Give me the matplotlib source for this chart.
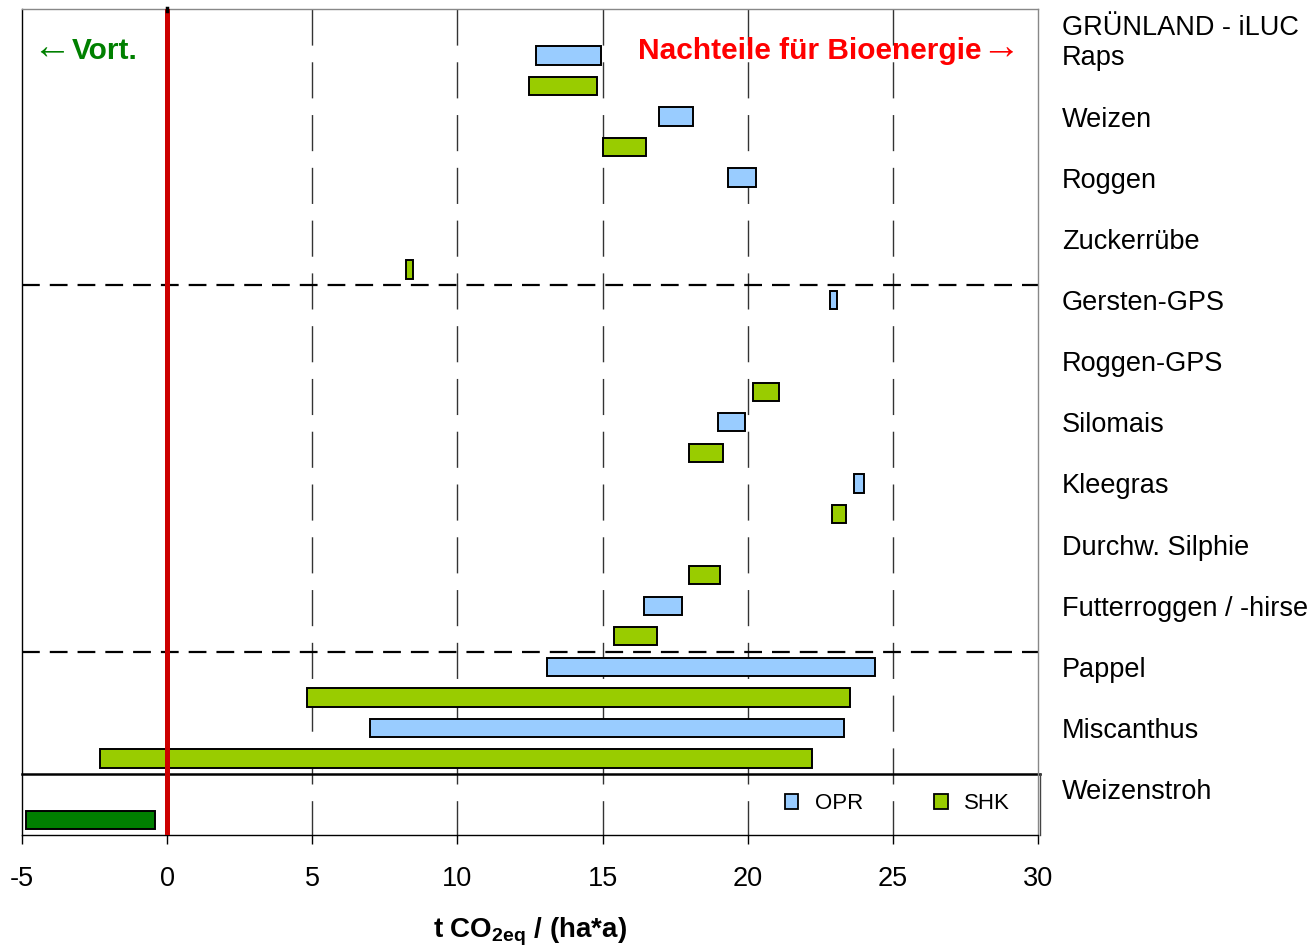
import numpy as np
import matplotlib.pyplot as plt
import matplotlib.transforms as mtransforms
from matplotlib.patches import Patch

plt.rcParams['font.family'] = ['Liberation Sans', 'DejaVu Sans']
plt.rcParams['axes.unicode_minus'] = False
plt.rcParams['mathtext.fontset'] = 'custom'
plt.rcParams['mathtext.rm'] = 'Liberation Sans:bold'
plt.rcParams['mathtext.it'] = 'Liberation Sans:bold'
plt.rcParams['mathtext.bf'] = 'Liberation Sans:bold'

# crops top to bottom, each one gets an OPR row and an SHK row
title_row = "GRÜNLAND - iLUC"
crops = ["Raps", "Weizen", "Roggen", "Zuckerrübe", "Gersten-GPS", "Roggen-GPS",
         "Silomais", "Kleegras", "Durchw. Silphie", "Futterroggen / -hirse",
         "Pappel", "Miscanthus", "Weizenstroh"]

# ranges in t CO2eq/(ha*a), None = no value
opr_low  = [12.69, 16.93, 19.32, None, 22.82, None, 18.96, 23.65, None, 16.41, 13.07, 6.97, None]
opr_high = [14.94, 18.12, 20.27, None, 23.07, None, 19.91, 23.99, None, 17.73, 24.37, 23.31, None]
shk_low  = [12.46, 15.00, None, 8.21, None, 20.19, 17.96, 22.90, 17.96, 15.40, 4.82, -2.30, -4.85]
shk_high = [14.79, 16.50, None, 8.46, None, 21.07, 19.14, 23.40, 19.05, 16.89, 23.53, 22.21, -0.43]

xticks = [-5, 0, 5, 10, 15, 20, 25, 30]

c_opr = '#99ccff'
c_shk = '#99cc00'
# Weizenstroh is drawn in dark green
shk_colors = [c_shk] * 12 + ['#007f00']

fig = plt.figure(figsize=(13.13, 9.49), dpi=100)
ax = fig.add_axes([0.0168, 0.1201, 0.7738, 0.8699])

bar_h = 0.6
for i in range(len(crops)):
    if opr_low[i] is not None:
        ax.barh(2 * i, opr_high[i] - opr_low[i], left=opr_low[i], height=bar_h,
                color=c_opr, edgecolor='black', linewidth=1.4, zorder=3)
    if shk_low[i] is not None:
        ax.barh(2 * i + 1, shk_high[i] - shk_low[i], left=shk_low[i], height=bar_h,
                color=shk_colors[i], edgecolor='black', linewidth=1.4, zorder=3)

ax.set_xlim(-5, 30)
ax.set_ylim(25.5, -1.5)

# vertical dashed grid
for x in xticks[2:-1]:
    ax.axvline(x, ymin=1, ymax=0, color='#333333', lw=1, dashes=(26, 12), zorder=1)

# group separators
for y in [7.5, 19.5]:
    ax.axhline(y, color='black', lw=1.6, dashes=(8, 4.5), zorder=2)
ax.axhline(23.5, xmin=0, xmax=1.002, color='black', lw=1.8, zorder=2, clip_on=False)
ax.plot([1.002, 1.002], [0, 2.0 / 27], transform=ax.transAxes, color='#444444',
        lw=1.0, clip_on=False)

# zero line
ax.axvline(0, color='#cc0000', lw=3.6, zorder=4)
ax.plot([0, 0], [-1.45, -1.56], color='black', lw=2.5, clip_on=False, zorder=5)

ax.set_xticks(xticks)
ax.set_xticklabels([str(t) for t in xticks])
ax.tick_params(axis='x', direction='out', length=6.5, width=1, pad=16, labelsize=19.5)
ax.set_yticks([])
ax.spines['top'].set_color('#888888')
ax.spines['right'].set_color('#888888')
for s in ax.spines.values():
    s.set_linewidth(1.0)

# crop names right of the plot
trans = mtransforms.blended_transform_factory(ax.transAxes, ax.transData)
ax.text(1.0236, -1, title_row, transform=trans, fontsize=19.5, ha='left',
        va='center_baseline')
for i, name in enumerate(crops):
    ax.text(1.0236, 2 * i, name, transform=trans, fontsize=19.5, ha='left',
            va='center_baseline')

# direction hints
hint_y = 0.12
ax.text(-3.31, hint_y, "←", color='#008000', fontsize=28, family='Liberation Serif',
        ha='right', va='baseline', zorder=5)
ax.text(-3.30, hint_y, "Vort.", color='#008000', fontsize=21.5, fontweight='bold',
        ha='left', va='baseline', zorder=5)
ax.text(28.04, hint_y, "Nachteile für Bioenergie", color='#ff0000', fontsize=21.5,
        fontweight='bold', ha='right', va='baseline', zorder=5)
ax.text(28.05, hint_y, "→", color='#ff0000', fontsize=28, family='Liberation Serif',
        ha='left', va='baseline', zorder=5)

handles = [Patch(facecolor=c_opr, edgecolor='black', linewidth=1.3, label='OPR'),
           Patch(facecolor=c_shk, edgecolor='black', linewidth=1.3, label='SHK')]
ax.legend(handles=handles, ncol=2, frameon=False, loc='center left',
          bbox_to_anchor=(0.751, 0.0376), fontsize=16, handlelength=0.6,
          handleheight=0.65, handletextpad=0.75, columnspacing=3.2,
          borderpad=0, borderaxespad=0)

fig.text(530 / 1313, 1 - 938 / 949, "t CO$_{2eq}$ / (ha*a)", fontsize=20,
         fontweight='bold', ha='center', va='baseline')

fig.savefig('out.png', dpi=100)
